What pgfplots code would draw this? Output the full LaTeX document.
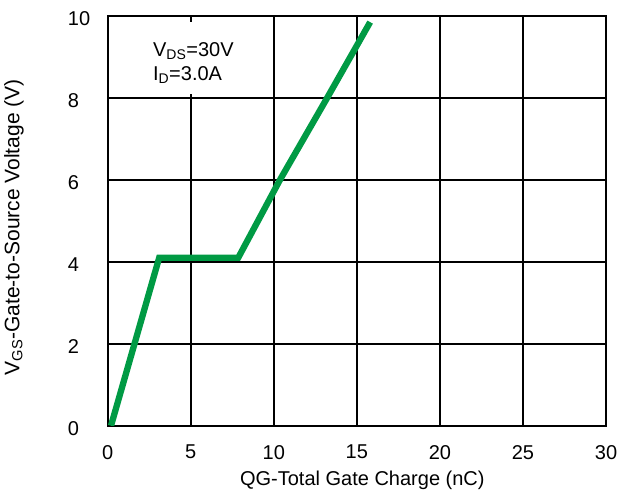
\documentclass[border=0pt]{standalone}
\usepackage{fontspec}
\setmainfont{Liberation Sans}
\usepackage{pgfplots}
\pgfplotsset{compat=1.18}
\usetikzlibrary{calc}
\definecolor{curvegreen}{RGB}{0,154,68}
\begin{document}
\begin{tikzpicture}
\begin{axis}[
  scale only axis, width=498.3pt, height=409.7pt,
  xmin=0, xmax=30, ymin=0, ymax=10,
  xtick={0,5,10,15,20,25,30}, ytick={0,2,4,6,8,10},
  grid=major, major grid style={black, line width=2pt},
  axis line style={black, line width=2pt},
  major tick length=0pt,
  /pgf/number format/assume math mode=true,
  tick label style={font=\fontsize{20}{24}\selectfont},
  xticklabel style={anchor=north, inner sep=0pt, yshift=-19.3pt},
  yticklabel style={anchor=west, inner sep=0pt, xshift=-40pt, yshift=-2.5pt},
  label style={font=\fontsize{20}{24}\selectfont},
  xlabel={QG-Total Gate Charge (nC)},
  ylabel={V\textsubscript{GS}-Gate-to-Source Voltage (V)},
  xlabel style={at={(axis description cs:0.511,-0.1465)}, anchor=base},
  ylabel style={at={(axis description cs:-0.1774,0.484)}, anchor=base, font=\fontsize{21}{25}\selectfont},
]
\addplot[curvegreen, line width=6.3pt, no marks] coordinates {
  (0.2,0) (3.1,4.1) (7.86,4.1) (10.37,6.0) (13.14,7.95) (15.8,9.85)
};
\fill[white] (axis cs:2.3,9.86) rectangle (axis cs:8.3,8.10);
\node[anchor=base west, inner sep=0pt, font=\fontsize{20}{24}\selectfont] at (axis cs:2.72,9.02) {V\textsubscript{DS}=30V};
\node[anchor=base west, inner sep=0pt, font=\fontsize{20}{24}\selectfont] at (axis cs:2.72,8.42) {I\textsubscript{D}=3.0A};
\end{axis}
\pgfresetboundingbox
\path ($(current axis.south west)+(-107.7pt,-67.3pt)$) rectangle ($(current axis.north east)+(16pt,16pt)$);
\end{tikzpicture}
\end{document}
